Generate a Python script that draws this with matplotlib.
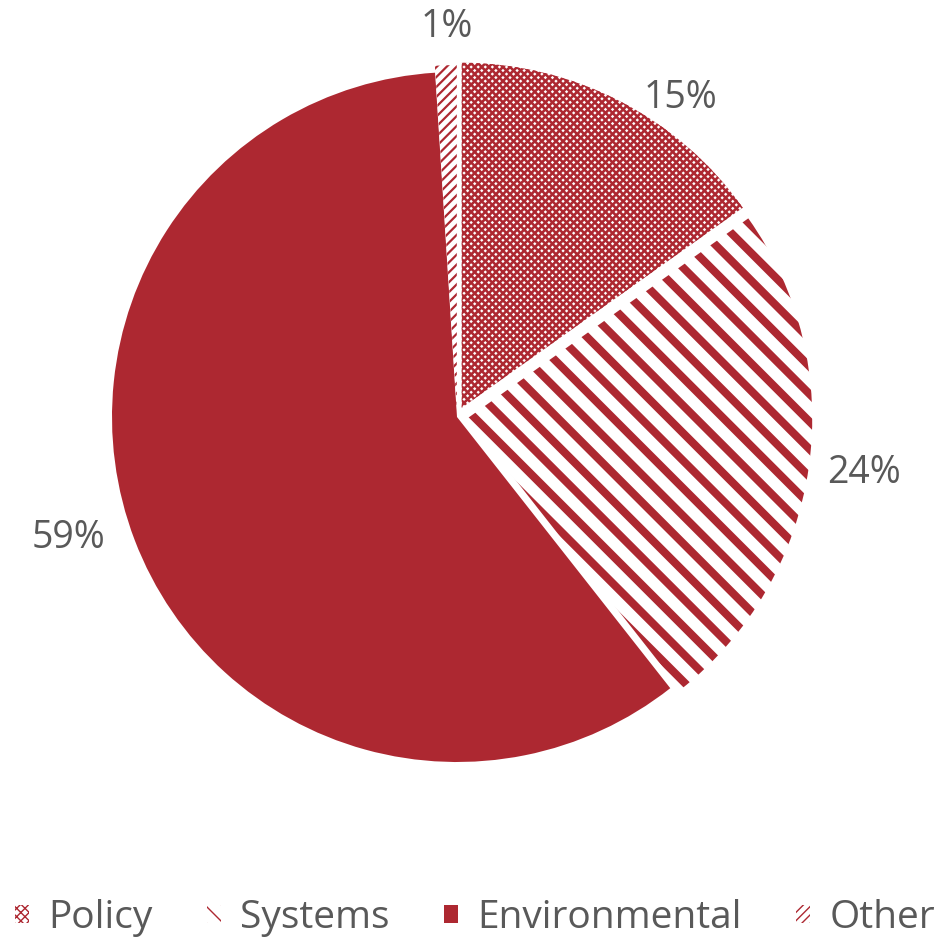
"""
Pie chart of intervention types: Policy / Systems / Environmental / Other.
Red patterned wedges, grey percentage labels, legend along the bottom.
"""

import matplotlib
matplotlib.use("Agg")
import matplotlib.pyplot as plt
from matplotlib.patches import Patch
from matplotlib.collections import LineCollection
import numpy as np

# ── Data ─────────────────────────────────────────────────────────────────────
categories = ["Policy", "Systems", "Environmental", "Other"]
shares     = [15, 24, 59, 1]
labels     = ["15%", "24%", "59%", "1%"]

# ── Style ────────────────────────────────────────────────────────────────────
RED    = "#AD2831"
TEXT   = "#595959"
FONT   = "Open Sans"
explode   = [0.03, 0.03, 0.0, 0.02]
lab_dist  = [1.13, 1.19, 1.18, 1.13]     # radial distance of each label
lab_nudge = [-7.7, 0.4, -3.6, -0.3]      # angle nudge (deg) of each label
# fill patterns: list of (line angle deg, spacing px, width px), None = solid
patterns = [
    [(45, 5.0, 2.6), (-45, 5.0, 2.6)],   # Policy: fine diamond grid
    [(-45, 19.5, 8.0)],                  # Systems: wide diagonal stripes
    None,                                # Environmental: solid
    [(45, 7.0, 2.2)],                    # Other: thin diagonal stripes
]
legend_hatch = ["xxxx", "\\\\", None, "////"]

W, H, DPI = 941, 939, 100
CX, CY, R = 457, 417, 345                # pie centre / radius in pixels
PX = 1 / R                               # one pixel in data units
PT = DPI / 72                            # pixels per point


def stripe_fill(ax, wedge, angle, spacing, width):
    """Parallel red lines clipped to a wedge."""
    a = np.deg2rad(angle)
    d = np.array([np.cos(a), np.sin(a)])
    n = np.array([-np.sin(a), np.cos(a)])
    L = 2.0
    ks = np.arange(-L, L, spacing * PX)
    segs = [[k * n - L * d, k * n + L * d] for k in ks]
    lc = LineCollection(segs, colors=RED, linewidths=width / PT,
                        capstyle="butt", zorder=3)
    ax.add_collection(lc)
    lc.set_clip_path(wedge)


fig = plt.figure(figsize=(W / DPI, H / DPI), dpi=DPI)
fig.patch.set_facecolor("white")
ax = fig.add_axes([0, 0, 1, 1])

wedges, _ = ax.pie(
    shares, startangle=90, counterclock=False, explode=explode,
    colors=[RED if p is None else "white" for p in patterns], radius=1.0,
    wedgeprops=dict(linewidth=0),
)
for w, pat in zip(wedges, patterns):
    if pat:
        for angle, spacing, width in pat:
            stripe_fill(ax, w, angle, spacing, width)

# ── Percentage labels ────────────────────────────────────────────────────────
for w, txt, d, nud in zip(wedges, labels, lab_dist, lab_nudge):
    ang = np.deg2rad((w.theta1 + w.theta2) / 2 + nud)
    ax.text(d * np.cos(ang), d * np.sin(ang), txt, ha="center", va="center",
            fontsize=27, color=TEXT, family=FONT)

ax.set_xlim(-CX / R, (W - CX) / R)
ax.set_ylim(-(H - CY) / R, CY / R)
ax.set_aspect("auto")
ax.axis("off")

# ── Legend ───────────────────────────────────────────────────────────────────
handles = []
for cat, h in zip(categories, legend_hatch):
    p = Patch(facecolor=RED if h is None else "white", edgecolor=RED,
              hatch=h, linewidth=0, label=cat)
    handles.append(p)
leg = fig.legend(handles=handles, loc="center", ncol=4,
                 bbox_to_anchor=(0.505, 1 - 918 / H), frameon=False,
                 handlelength=0.35, handleheight=0.35, handletextpad=0.5,
                 columnspacing=1.4,
                 prop=dict(family=FONT, size=28))
for t in leg.get_texts():
    t.set_color(TEXT)

fig.savefig("out.png", dpi=DPI, facecolor="white")
